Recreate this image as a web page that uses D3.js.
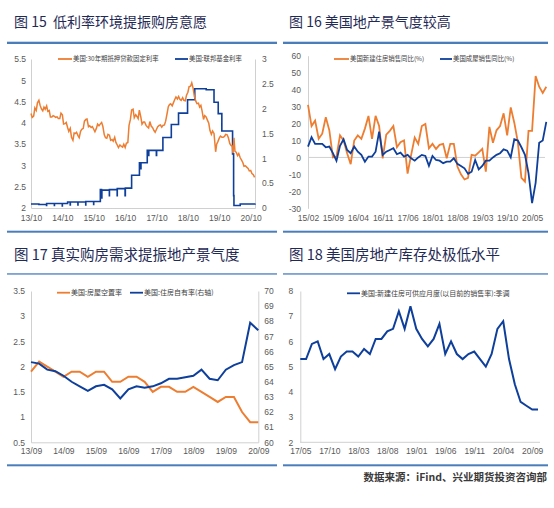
<!DOCTYPE html>
<html><head><meta charset="utf-8">
<script src="https://cdn.jsdelivr.net/npm/d3@7"></script>
<style>
body{margin:0;background:#fff;}
svg{display:block;font-family:"Noto Sans CJK SC","Noto Sans",sans-serif;}
</style></head><body>
<svg id="c" width="554" height="508"></svg>
<script>
// ---------------- DATA ----------------
// Panel 1: 30y mortgage rate (left) & fed funds rate (right)
const p1Titles = ["图 15  低利率环境提振购房意愿"];
const p1Legend = ["美国:30年期抵押贷款固定利率", "美国:联邦基金利率"];
const p1XTicks = ["2013-10-01","2014-10-01","2015-10-01","2016-10-01","2017-10-01","2018-10-01","2019-10-01","2020-10-01"];
const p1LeftTicks = [2,2.5,3,3.5,4,4.5,5,5.5];
const p1RightTicks = [0,0.5,1,1.5,2,2.5,3];
const mortgage = [
["2013-10-01",4.22],["2013-10-15",4.13],["2013-11-01",4.16],["2013-11-15",4.35],["2013-12-01",4.29],["2013-12-15",4.47],
["2014-01-01",4.53],["2014-01-15",4.41],["2014-02-01",4.32],["2014-02-15",4.28],["2014-03-01",4.37],["2014-03-15",4.32],
["2014-04-01",4.40],["2014-04-15",4.27],["2014-05-01",4.29],["2014-05-15",4.14],["2014-06-01",4.14],["2014-06-15",4.17],
["2014-07-01",4.15],["2014-07-15",4.13],["2014-08-01",4.14],["2014-08-15",4.10],["2014-09-01",4.10],["2014-09-15",4.23],
["2014-10-01",4.19],["2014-10-15",3.97],["2014-11-01",3.98],["2014-11-15",4.01],["2014-12-01",3.89],["2014-12-15",3.80],
["2015-01-01",3.87],["2015-01-15",3.66],["2015-02-01",3.59],["2015-02-15",3.76],["2015-03-01",3.75],["2015-03-15",3.78],
["2015-04-01",3.70],["2015-04-15",3.65],["2015-05-01",3.80],["2015-05-15",3.85],["2015-06-01",3.87],["2015-06-15",4.04],
["2015-07-01",4.08],["2015-07-15",4.09],["2015-08-01",3.91],["2015-08-15",3.93],["2015-09-01",3.89],["2015-09-15",3.91],
["2015-10-01",3.85],["2015-10-15",3.79],["2015-11-01",3.87],["2015-11-15",3.97],["2015-12-01",3.93],["2015-12-15",3.97],
["2016-01-01",4.01],["2016-01-15",3.92],["2016-02-01",3.72],["2016-02-15",3.65],["2016-03-01",3.64],["2016-03-15",3.73],
["2016-04-01",3.71],["2016-04-15",3.59],["2016-05-01",3.61],["2016-05-15",3.57],["2016-06-01",3.66],["2016-06-15",3.54],
["2016-07-01",3.48],["2016-07-15",3.42],["2016-08-01",3.48],["2016-08-15",3.45],["2016-09-01",3.43],["2016-09-15",3.50],
["2016-10-01",3.42],["2016-10-15",3.52],["2016-11-01",3.54],["2016-11-15",3.94],["2016-12-01",4.08],["2016-12-15",4.30],
["2017-01-01",4.32],["2017-01-15",4.12],["2017-02-01",4.19],["2017-02-15",4.15],["2017-03-01",4.10],["2017-03-15",4.30],
["2017-04-01",4.14],["2017-04-15",3.97],["2017-05-01",4.02],["2017-05-15",4.02],["2017-06-01",3.94],["2017-06-15",3.91],
["2017-07-01",3.88],["2017-07-15",4.03],["2017-08-01",3.92],["2017-08-15",3.89],["2017-09-01",3.82],["2017-09-15",3.78],
["2017-10-01",3.85],["2017-10-15",3.91],["2017-11-01",3.94],["2017-11-15",3.95],["2017-12-01",3.90],["2017-12-15",3.94],
["2018-01-01",3.95],["2018-01-15",4.04],["2018-02-01",4.22],["2018-02-15",4.38],["2018-03-01",4.43],["2018-03-15",4.45],
["2018-04-01",4.40],["2018-04-15",4.47],["2018-05-01",4.55],["2018-05-15",4.61],["2018-06-01",4.56],["2018-06-15",4.62],
["2018-07-01",4.55],["2018-07-15",4.53],["2018-08-01",4.59],["2018-08-15",4.53],["2018-09-01",4.52],["2018-09-15",4.65],
["2018-10-01",4.72],["2018-10-15",4.85],["2018-11-01",4.86],["2018-11-15",4.94],["2018-12-01",4.81],["2018-12-15",4.63],
["2019-01-01",4.51],["2019-01-15",4.45],["2019-02-01",4.46],["2019-02-15",4.37],["2019-03-01",4.41],["2019-03-15",4.28],
["2019-04-01",4.08],["2019-04-15",4.17],["2019-05-01",4.14],["2019-05-15",4.07],["2019-06-01",3.99],["2019-06-15",3.82],
["2019-07-01",3.73],["2019-07-15",3.81],["2019-08-01",3.75],["2019-08-20",3.32],["2019-09-01",3.50],["2019-09-15",3.56],
["2019-10-01",3.64],["2019-10-15",3.69],["2019-11-01",3.66],["2019-11-15",3.66],["2019-12-01",3.68],["2019-12-15",3.73],
["2020-01-01",3.72],["2020-01-15",3.65],["2020-02-01",3.51],["2020-02-15",3.47],["2020-03-01",3.45],["2020-03-08",3.29],
["2020-03-20",3.65],["2020-04-01",3.33],["2020-04-15",3.31],["2020-05-01",3.23],["2020-05-15",3.28],["2020-06-01",3.18],
["2020-06-15",3.13],["2020-07-01",3.07],["2020-07-15",2.98],["2020-08-01",2.99],["2020-08-15",2.96],["2020-09-01",2.93],
["2020-09-15",2.87],["2020-10-01",2.88],["2020-10-15",2.81],["2020-11-01",2.78],["2020-11-15",2.72]
];
const fedFunds = [
["2013-10-01",0.08],["2014-01-01",0.07],["2014-03-31",0.05],["2014-04-01",0.09],["2014-06-30",0.05],["2014-07-01",0.09],
["2014-09-30",0.04],["2014-10-01",0.09],["2014-12-01",0.12],["2014-12-31",0.06],["2015-01-02",0.12],["2015-03-31",0.06],
["2015-04-01",0.12],["2015-06-30",0.06],["2015-07-01",0.13],["2015-09-30",0.07],["2015-10-01",0.13],["2015-12-17",0.37],
["2015-12-31",0.20],["2016-01-04",0.36],["2016-03-31",0.25],["2016-04-01",0.37],["2016-06-30",0.25],["2016-07-01",0.39],
["2016-09-30",0.25],["2016-10-03",0.40],["2016-12-15",0.66],["2017-03-16",0.91],["2017-03-31",0.79],["2017-04-03",0.91],
["2017-06-15",1.16],["2017-06-30",1.06],["2017-07-03",1.16],["2017-09-29",1.06],["2017-10-02",1.16],["2017-12-14",1.42],
["2018-03-22",1.68],["2018-06-14",1.91],["2018-09-27",2.18],["2018-12-20",2.40],["2019-05-02",2.38],["2019-08-01",2.13],
["2019-09-19",1.90],["2019-10-31",1.55],["2020-03-04",1.09],["2020-03-16",0.25],["2020-03-20",0.05],["2020-06-01",0.08],
["2020-11-20",0.09]
];

// Panel 2: new & existing home sales YoY (%), monthly 2015-02 .. 2020-09
const p2Title = "图 16 美国地产景气度较高";
const p2Legend = ["美国新建住房销售同比(%)", "美国成屋销售同比(%)"];
const p2Start = "2015-02-01";
const p2YTicks = [-30,-20,-10,0,10,20,30,40,50,60];
const newHomeYoY = [31,18.5,21.7,11,14,23.7,16,0,0.5,13,10,2.5,-4,10,13,11,17,24.5,11,24.5,18.5,-0.5,13.5,15.7,18.5,6,9,10,-9.5,1.5,11.7,8,18.5,19.7,5.4,8,5,7.4,8,-0.5,8,8,-5.4,-10,-13,-12,1.5,1,3,5,-8.4,18,8.7,16,18.5,26,13,29.5,20.5,9,-12,-14.3,15.7,15.7,48,41.7,38,41.7];
const existingYoY = [6.4,11.9,8,8,8,6,6.4,2.5,-2,6.8,10.7,4.4,2.5,6.4,3.4,1.5,-2.5,0.5,0.5,3.4,15.2,1.5,3.4,4.4,5.4,1.9,2.8,0.5,1.5,-0.5,-1.9,0,1.5,0.9,-5,0.9,-1.5,-1.9,-3.4,-2.5,-2.5,-0.5,-3.8,-5,-6.4,-9.7,-8.4,-1.5,-7,-5,-1.9,-1.9,0,1.5,2.5,4.8,4,0,10.7,10,6,1.5,-9.3,-27,-15,8.7,10,21];

// Panel 3: vacancy rate (left) & homeownership rate (right), quarterly 2013/09 .. 2020/09
const p3Title = "图 17 真实购房需求提振地产景气度";
const p3Legend = ["美国:房屋空置率", "美国:住房自有率(右轴)"];
const p3Start = "2013-09-01";
const p3LeftTicks = [0.5,1,1.5,2,2.5,3,3.5];
const p3RightTicks = [60,61,62,63,64,65,66,67,68,69,70];
const vacancy = [1.9,2.1,2.0,1.9,1.8,1.9,1.9,1.8,1.9,1.9,1.7,1.7,1.8,1.8,1.7,1.5,1.6,1.6,1.5,1.5,1.6,1.5,1.4,1.3,1.4,1.4,1.1,0.9,0.9];
const ownership = [65.3,65.2,64.8,64.7,64.4,64.0,63.7,63.4,63.7,63.8,63.5,62.9,63.5,63.7,63.6,63.7,63.9,64.2,64.2,64.3,64.4,64.8,64.2,64.1,64.8,65.1,65.3,67.9,67.4];

// Panel 4: months' supply of new houses, monthly 2017-05 .. 2020-10
const p4Title = "图 18 美国房地产库存处极低水平";
const p4Legend = ["美国:新建住房可供应月度(以目前的销售率):季调"];
const p4Start = "2017-05-01";
const p4YTicks = [2,3,4,5,6,7,8];
const monthsSupply = [5.3,5.3,5.9,6.0,5.3,5.5,4.9,5.4,5.6,5.6,5.4,5.7,5.5,6.1,6.1,6.4,6.5,7.2,6.5,7.4,6.5,6.1,5.8,6.1,6.7,5.5,6.0,5.5,5.3,5.5,5.6,5.3,5.0,5.5,6.5,6.8,5.3,4.3,3.6,3.45,3.3,3.3];

const sourceText = "数据来源：iFind、兴业期货投资咨询部";

// ---------------- STYLE ----------------
const ORANGE = "#ED7D31", BLUE = "#0E3F9B", RULE = "#4A7EBB", TITLE = "#1F2A55",
      AXIS = "#D0D0D0", TICK = "#595959", LEG = "#404040";
const NUMFONT = "'Liberation Sans', Arial, sans-serif";

const svg = d3.select("#c");
const parse = d3.timeParse("%Y-%m-%d");
const fmtYM = d3.timeFormat("%y/%m");
const fmtNum = d => String(d);

function rule(x1, x2, y, h) {
  svg.append("rect").attr("x", x1).attr("y", y).attr("width", x2 - x1).attr("height", h).attr("fill", RULE);
}
function title(x, y, t, size) {
  svg.append("text").attr("x", x).attr("y", y).attr("font-size", size).attr("fill", TITLE)
     .style("white-space", "pre").text(t);
}
function styleAxis(g, fs) {
  g.select(".domain").attr("stroke", AXIS).attr("stroke-width", 1);
  g.selectAll("text").attr("fill", TICK).attr("font-size", fs || 8.5).attr("font-family", NUMFONT);
}
function legend(x, y, color, text, len, fs, sw) {
  svg.append("line").attr("x1", x).attr("x2", x + len).attr("y1", y).attr("y2", y)
     .attr("stroke", color).attr("stroke-width", sw || 1.8);
  svg.append("text").attr("x", x + len + 1).attr("y", y).attr("dy", "0.35em")
     .attr("font-size", fs).attr("fill", LEG).text(text);
}
function monthCats(start, n, step) {
  const s = parse(start);
  return d3.range(n).map(i => d3.timeMonth.offset(s, i * step));
}

// ---------------- PANEL 1 ----------------
title(14, 26.5, p1Titles[0], 14);
rule(7, 277, 41.7, 2.3);
rule(7, 277, 230.7, 2);
{
  const x = d3.scaleTime().domain([parse("2013-10-01"), parse("2020-11-20")]).range([31, 255]);
  const yL = d3.scaleLinear().domain([2, 5.5]).range([208, 59]);
  const yR = d3.scaleLinear().domain([0, 3]).range([208, 59]);
  const gx = svg.append("g").attr("transform", "translate(0,208)")
    .call(d3.axisBottom(x).tickValues(p1XTicks.map(parse)).tickFormat(fmtYM).tickSize(0).tickPadding(7));
  styleAxis(gx, 8.5);
  const gl = svg.append("g").attr("transform", "translate(31,0)")
    .call(d3.axisLeft(yL).tickValues(p1LeftTicks).tickFormat(fmtNum).tickSize(0).tickPadding(5));
  styleAxis(gl, 8.5);
  const gr = svg.append("g").attr("transform", "translate(255,0)")
    .call(d3.axisRight(yR).tickValues(p1RightTicks).tickFormat(fmtNum).tickSize(0).tickPadding(7));
  styleAxis(gr, 8.5);
  svg.append("path").datum(fedFunds).attr("fill", "none").attr("stroke", BLUE).attr("stroke-width", 1.6)
    .attr("d", d3.line().curve(d3.curveStepAfter).x(d => x(parse(d[0]))).y(d => yR(d[1])));
  svg.append("path").datum(mortgage).attr("fill", "none").attr("stroke", ORANGE).attr("stroke-width", 1.5)
    .attr("d", d3.line().x(d => x(parse(d[0]))).y(d => yL(d[1])));
  legend(58, 59, ORANGE, p1Legend[0], 14, 6.4);
  legend(175, 59, BLUE, p1Legend[1], 13, 6.4);
}

// ---------------- PANEL 2 ----------------
title(289, 26.5, p2Title, 14);
rule(283, 548, 41.7, 2.3);
rule(283, 548, 230.7, 2);
{
  const cats = monthCats(p2Start, newHomeYoY.length, 1);
  const x = d3.scalePoint().domain(cats.map(d => +d)).range([308, 546.3]);
  const y = d3.scaleLinear().domain([-30, 60]).range([208.3, 55.7]);
  const gl = svg.append("g").attr("transform", "translate(308,0)")
    .call(d3.axisLeft(y).tickValues(p2YTicks).tickFormat(fmtNum).tickSize(0).tickPadding(7));
  styleAxis(gl, 8.5);
  svg.append("line").attr("x1", 308).attr("x2", 545).attr("y1", y(0)).attr("y2", y(0)).attr("stroke", AXIS);
  const tickCats = cats.filter((d, i) => i % 7 === 0).map(d => +d);
  const gx = svg.append("g").attr("transform", "translate(0,208.3)")
    .call(d3.axisBottom(x).tickValues(tickCats).tickFormat(d => fmtYM(new Date(d))).tickSize(0).tickPadding(7));
  gx.select(".domain").remove();
  styleAxis(gx, 8.5);
  const line = d3.line().x((d, i) => x(+cats[i])).y(d => y(d));
  svg.append("path").datum(newHomeYoY).attr("fill", "none").attr("stroke", ORANGE).attr("stroke-width", 1.8).attr("d", line);
  svg.append("path").datum(existingYoY).attr("fill", "none").attr("stroke", BLUE).attr("stroke-width", 1.8).attr("d", line);
  legend(334, 59, ORANGE, p2Legend[0], 15, 6.4);
  legend(440, 59, BLUE, p2Legend[1], 12, 6.4);
}

// ---------------- PANEL 3 ----------------
title(14, 259.5, p3Title, 14.5);
rule(7, 277, 273.3, 1.3);
rule(7, 277, 464.3, 2);
{
  const cats = monthCats(p3Start, vacancy.length, 3);
  const x = d3.scalePoint().domain(cats.map(d => +d)).range([31, 258.3]);
  const yL = d3.scaleLinear().domain([0.5, 3.5]).range([442.3, 291]);
  const yR = d3.scaleLinear().domain([60, 70]).range([442.3, 291]);
  const tickCats = cats.filter((d, i) => i % 4 === 0).map(d => +d);
  const gx = svg.append("g").attr("transform", "translate(0,442.3)")
    .call(d3.axisBottom(x).tickValues(tickCats).tickFormat(d => fmtYM(new Date(d))).tickSize(0).tickPadding(6));
  styleAxis(gx, 8.5);
  const gl = svg.append("g").attr("transform", "translate(31,0)")
    .call(d3.axisLeft(yL).tickValues(p3LeftTicks).tickFormat(fmtNum).tickSize(0).tickPadding(6));
  styleAxis(gl, 8.5);
  const gr = svg.append("g").attr("transform", "translate(258.3,0)")
    .call(d3.axisRight(yR).tickValues(p3RightTicks).tickFormat(fmtNum).tickSize(0).tickPadding(6));
  styleAxis(gr, 8.5);
  svg.append("path").datum(vacancy).attr("fill", "none").attr("stroke", ORANGE).attr("stroke-width", 2)
    .attr("d", d3.line().x((d, i) => x(+cats[i])).y(d => yL(d)));
  svg.append("path").datum(ownership).attr("fill", "none").attr("stroke", BLUE).attr("stroke-width", 2)
    .attr("d", d3.line().x((d, i) => x(+cats[i])).y(d => yR(d)));
  legend(57, 292.7, ORANGE, p3Legend[0], 13, 7);
  legend(130, 292.7, BLUE, p3Legend[1], 13, 7);
}

// ---------------- PANEL 4 ----------------
title(289, 259.5, p4Title, 14.5);
rule(283, 548, 273.3, 1.3);
rule(283, 548, 464.3, 2);
{
  const cats = monthCats(p4Start, monthsSupply.length, 1);
  const x = d3.scalePoint().domain(cats.map(d => +d)).range([300.3, 538]);
  const y = d3.scaleLinear().domain([2, 8]).range([442.3, 291]);
  const tickCats = cats.filter((d, i) => i % 5 === 0).map(d => +d);
  const gx = svg.append("g").attr("transform", "translate(0,442.3)")
    .call(d3.axisBottom(x).tickValues(tickCats).tickFormat(d => fmtYM(new Date(d))).tickSize(0).tickPadding(6));
  gx.select(".domain").attr("d", "M300.3,0H540");
  styleAxis(gx, 8.5);
  const gl = svg.append("g").attr("transform", "translate(300.3,0)")
    .call(d3.axisLeft(y).tickValues(p4YTicks).tickFormat(fmtNum).tickSize(0).tickPadding(7));
  styleAxis(gl, 8.5);
  svg.append("path").datum(monthsSupply).attr("fill", "none").attr("stroke", BLUE).attr("stroke-width", 2)
    .attr("d", d3.line().x((d, i) => x(+cats[i])).y(d => y(d)));
  legend(347, 293.3, BLUE, p4Legend[0], 13, 7);
}

// ---------------- SOURCE ----------------
svg.append("text").attr("x", 547).attr("y", 480.5).attr("text-anchor", "end")
  .attr("font-size", 10.5).attr("font-weight", "bold").attr("fill", "#3A3A3A").text(sourceText);
</script>
</body></html>
